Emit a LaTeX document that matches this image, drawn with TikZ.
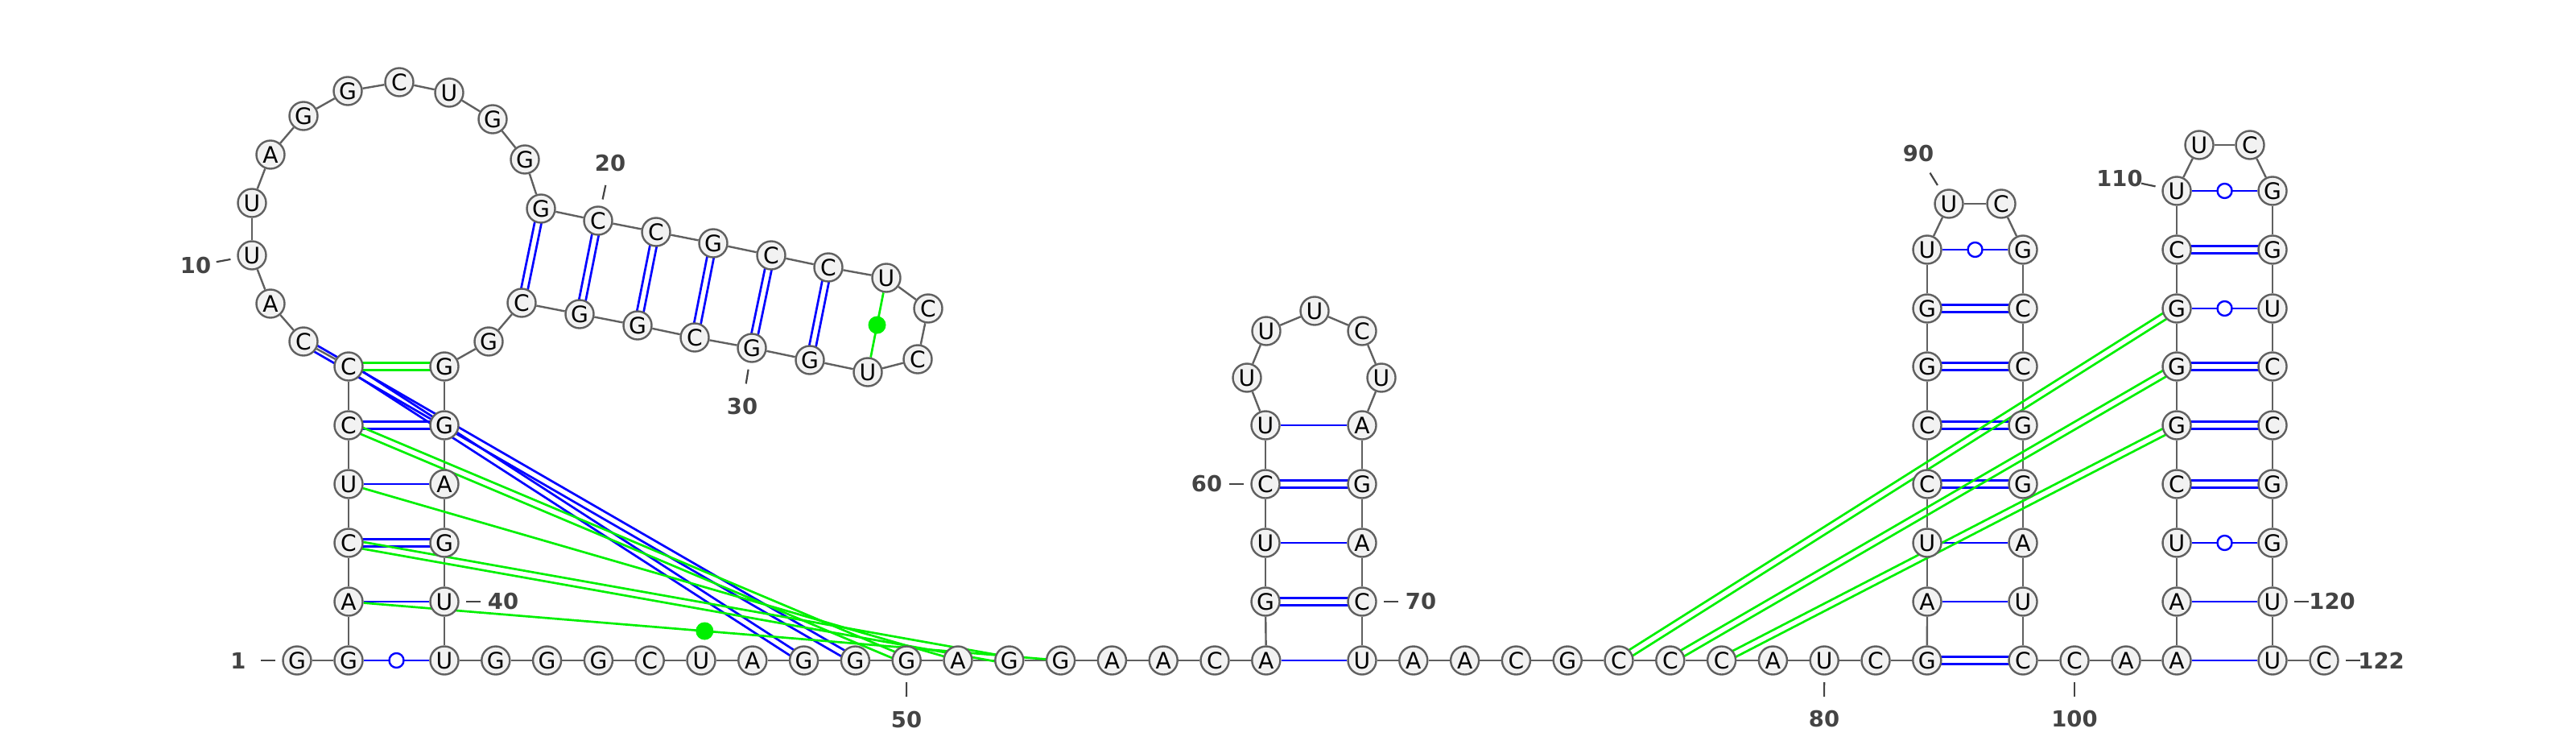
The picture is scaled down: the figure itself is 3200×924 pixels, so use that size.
\documentclass[tikz,border=0pt]{standalone}
\usepackage{fontspec}
\setmainfont{DejaVu Sans}
\usetikzlibrary{calc}
\definecolor{ntFill}{HTML}{F2F2F2}
\definecolor{ntLine}{HTML}{606060}
\definecolor{numCol}{HTML}{444444}
\definecolor{pairBlue}{HTML}{0000FF}
\definecolor{pairGreen}{HTML}{00F000}
\pgfdeclarelayer{bg}
\pgfsetlayers{bg,main}
\tikzstyle{nt}=[circle, draw=ntLine, fill=ntFill, line width=0.024cm, minimum size=0.35cm, inner sep=0pt, font=\fontsize{8}{9}\selectfont]
\tikzstyle{numlab}=[text=numCol, inner sep=0pt, font=\fontsize{7.8}{9}\selectfont\bfseries]
\tikzstyle{numtick}=[draw=numCol, line width=0.022cm]
\tikzstyle{backbone}=[draw=ntLine, line width=0.024cm]
\tikzstyle{canon}=[draw=pairBlue, line width=0.027cm]
\tikzstyle{noncanon}=[draw=pairGreen, line width=0.027cm]
\tikzstyle{wobble}=[circle, draw=pairBlue, fill=white, line width=0.024cm, minimum size=0.18cm, inner sep=0pt]
\tikzstyle{gdot}=[circle, fill=pairGreen, minimum size=0.22cm, inner sep=0pt]
% double pair line: two parallel strokes, ends hidden under the nucleotides
\newcommand{\dpair}[3]{%
    \draw[#1] ($(#2)!0.042cm!90:(#3)$) -- ($(#3)!0.042cm!-90:(#2)$);
    \draw[#1] ($(#2)!0.042cm!-90:(#3)$) -- ($(#3)!0.042cm!90:(#2)$);}
% position number with its tick
\newcommand{\seqlabel}[4]{%
    \node[numlab] (#2) at #3 {#4};
    \draw[numtick] ($(#1)!0.27cm!(#2)$) -- ($(#1)!0.45cm!(#2)$);}
\begin{document}
\begin{tikzpicture}[x=0.01cm, y=-0.01cm]
    \useasboundingbox (0,0) rectangle (3200,924);

    % ==== NUCLEOTIDES ====
    % 5' end and left strand of the first stem
    \foreach \i/\x/\y/\nuc in {1/369/820/G, 2/433/820/G, 3/433/747/A, 4/433/674/C, 5/433/601/U, 6/433/528/C, 7/433/455/C}
        \node[nt] (n\i) at (\x,\y) {\nuc};

    % large loop
    \foreach \i/\x/\y/\nuc in {8/377/424/C, 9/336/377/A, 10/313/317/U, 11/313/252/U, 12/336/192/A, 13/377/144/G,
                             14/432/113/G, 15/496/102/C, 16/558/115/U, 17/612/148/G, 18/652/198/G, 19/672/259/G}
        \node[nt] (n\i) at (\x,\y) {\nuc};

    % tilted hairpin
    \foreach \i/\x/\y/\nuc in {20/743/274/C, 21/815/288/C, 22/886/302/G, 23/958/317/C, 24/1029/332/C, 25/1101/345/U,
                             26/1153/383/C, 27/1140/446/C, 28/1078/462/U, 29/1006/447/G, 30/934/432/G, 31/863/419/C,
                             32/792/404/G, 33/720/390/G, 34/648/376/C, 35/607/424/G}
        \node[nt] (n\i) at (\x,\y) {\nuc};

    % right strand of the first stem
    \foreach \i/\x/\y/\nuc in {36/552/455/G, 37/552/528/G, 38/552/601/A, 39/552/674/G, 40/552/747/U, 41/552/820/U}
        \node[nt] (n\i) at (\x,\y) {\nuc};

    % === BASELINE 42-57 ===
    \foreach[count=\k, evaluate=\k as \x using 552+63.8*\k, evaluate=\k as \i using int(41+\k)] \nuc in {G,G,G,C,U,A,G,G,G,A,G,G,A,A,C,A}
        \node[nt] (n\i) at (\x,820) {\nuc};

    % middle hairpin
    \foreach \i/\x/\y/\nuc in {58/1572/747/G, 59/1572/674/U, 60/1572/601/C, 61/1572/528/U, 62/1549/469/U, 63/1573/411/U,
                             64/1633/386/U, 65/1692/411/C, 66/1716/469/U, 67/1692/528/A, 68/1692/601/G, 69/1692/674/A,
                             70/1692/747/C}
        \node[nt] (n\i) at (\x,\y) {\nuc};

    % === BASELINE 71-82 ===
    \foreach[count=\k, evaluate=\k as \x using 1628.2+63.8*\k, evaluate=\k as \i using int(70+\k)] \nuc in {U,A,A,C,G,C,C,C,A,U,C,G}
        \node[nt] (n\i) at (\x,820) {\nuc};

    % fourth hairpin
    \foreach \i/\x/\y/\nuc in {83/2394/747/A, 84/2394/674/U, 85/2394/601/C, 86/2394/528/C, 87/2394/455/G, 88/2394/383/G,
                             89/2394/310/U, 90/2421/253/U, 91/2486/253/C, 92/2513/310/G, 93/2513/383/C, 94/2513/455/C,
                             95/2513/528/G, 96/2513/601/G, 97/2513/674/A, 98/2513/747/U}
        \node[nt] (n\i) at (\x,\y) {\nuc};

    % baseline 99-102
    \foreach \i/\x/\nuc in {99/2513/C, 100/2577/C, 101/2641/A, 102/2704/A}
        \node[nt] (n\i) at (\x,820) {\nuc};

    % last hairpin and 3' end
    \foreach \i/\x/\y/\nuc in {103/2704/747/A, 104/2704/674/U, 105/2704/601/C, 106/2704/528/G, 107/2704/455/G,
                             108/2704/383/G, 109/2704/310/C, 110/2704/237/U, 111/2732/180/U, 112/2795/180/C,
                             113/2823/237/G, 114/2823/310/G, 115/2823/383/U, 116/2823/455/C, 117/2823/528/C,
                             118/2823/601/G, 119/2823/674/G, 120/2823/747/U, 121/2823/820/U, 122/2887/820/C}
        \node[nt] (n\i) at (\x,\y) {\nuc};

    % ==== NUMBERING ====
    \seqlabel{n1}{lab1}{(296,820)}{1}
    \seqlabel{n10}{lab10}{(243,330)}{10}
    \seqlabel{n20}{lab20}{(758,203)}{20}
    \seqlabel{n30}{lab30}{(922,505)}{30}
    \seqlabel{n40}{lab40}{(625,747)}{40}
    \seqlabel{n50}{lab50}{(1126,894)}{50}
    \seqlabel{n60}{lab60}{(1499,601)}{60}
    \seqlabel{n70}{lab70}{(1765,747)}{70}
    \seqlabel{n80}{lab80}{(2266,893)}{80}
    \seqlabel{n90}{lab90}{(2383,191)}{90}
    \seqlabel{n100}{lab100}{(2577,893)}{100}
    \seqlabel{n110}{lab110}{(2633,222)}{110}
    \seqlabel{n120}{lab120}{(2897,747)}{120}
    \seqlabel{n122}{lab122}{(2958,820)}{122}

    % ==== CONNECTIONS ====
    \begin{pgfonlayer}{bg}
        % backbone
        \foreach \i [evaluate=\i as \j using int(\i+1)] in {1,...,121}
            \draw[backbone] (n\i) -- (n\j);

        % AU pairs
        \foreach \a/\b in {3/40, 5/38, 57/71, 59/69, 61/67, 83/98, 84/97, 102/121, 103/120}
            \draw[canon] (n\a) -- (n\b);

        % GC pairs
        \foreach \a/\b in {4/39, 6/37, 7/48, 8/49, 19/34, 20/33, 21/32, 22/31, 23/30, 24/29, 58/70, 60/68,
                           82/99, 85/96, 86/95, 87/94, 88/93, 105/118, 106/117, 107/116, 109/114}
            \dpair{canon}{n\a}{n\b};

        % GU wobbles
        \foreach \a/\b in {2/41, 89/92, 104/119, 108/115, 110/113}
            \draw[canon] (n\a) -- node[wobble] {} (n\b);

        % === GREEN INTERACTIONS ===
        \foreach \a/\b in {7/36, 6/50, 4/52, 76/108, 77/107, 78/106}
            \dpair{noncanon}{n\a}{n\b};
        \draw[noncanon] (n5) -- (n51);
        \foreach \a/\b in {3/53, 25/28}
            \draw[noncanon] (n\a) -- node[gdot] {} (n\b);
    \end{pgfonlayer}

\end{tikzpicture}
\end{document}
